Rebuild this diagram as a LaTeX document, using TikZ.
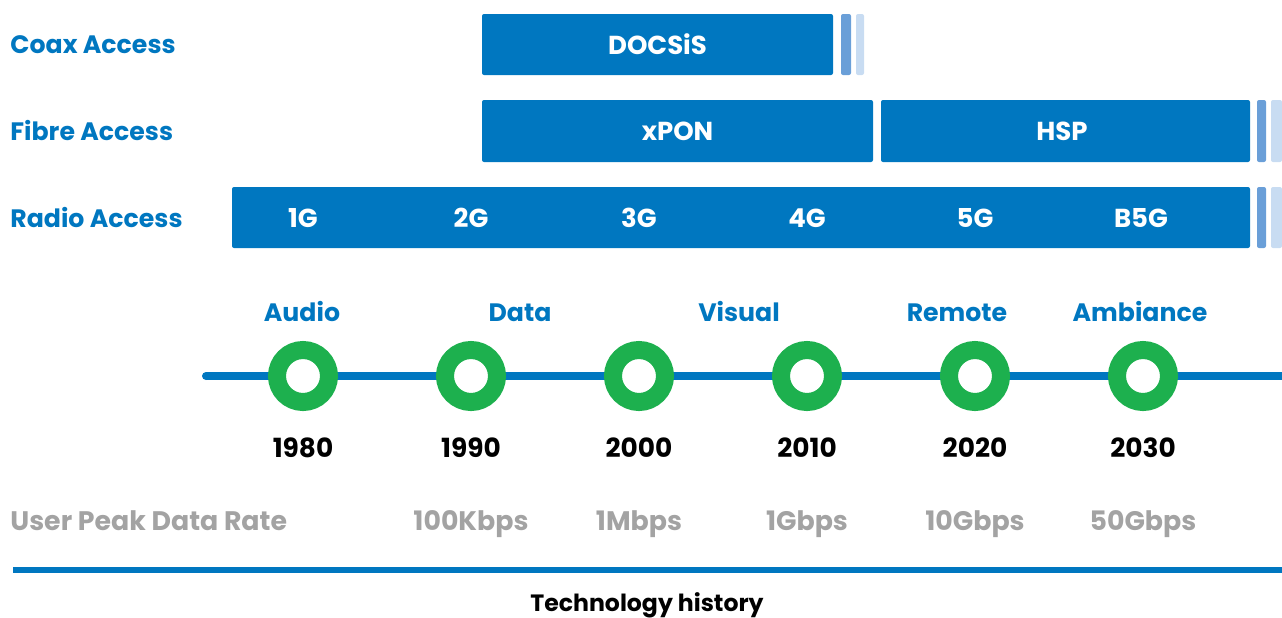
\documentclass[tikz,border=0pt]{standalone}
\usepackage{fontspec}
\setmainfont{Poppins}
\definecolor{barblue}{HTML}{0077C0}
\definecolor{midblue}{HTML}{6A9FD8}
\definecolor{lightblue}{HTML}{C8DCF2}
\definecolor{dotgreen}{HTML}{1DB04E}
\definecolor{ratgray}{HTML}{A3A3A3}
\begin{document}
\begin{tikzpicture}[x=0.5pt,y=-0.5pt,
  bar/.style={fill=barblue,draw=none,rounded corners=1pt},
  strip/.style={draw=none,rounded corners=1pt},
  rowlabel/.style={anchor=base west,text=barblue,font=\bfseries\fontsize{12.6}{14}\selectfont,inner sep=0pt},
  bartext/.style={anchor=base,text=white,font=\bfseries\fontsize{13}{14}\selectfont,inner sep=0pt},
  cat/.style={anchor=base,text=barblue,font=\bfseries\fontsize{12.6}{14}\selectfont,inner sep=0pt},
  year/.style={anchor=base,text=black,font=\bfseries\fontsize{13.2}{14}\selectfont,inner sep=0pt},
  rate/.style={anchor=base,text=ratgray,font=\bfseries\fontsize{13.4}{14}\selectfont,inner sep=0pt},
  dot/.style={circle,draw=dotgreen,line width=9pt,fill=white,minimum size=26pt,inner sep=0pt}]
\useasboundingbox (0,0) rectangle (1282,617);
% rows
\node[rowlabel] (coax) at (10,53) {Coax Access};
\node[rowlabel] (fibre) at (10,140) {Fibre Access};
\node[rowlabel] (radio) at (10,227) {Radio Access};
% coax
\fill[bar] (482,14) rectangle (833,75);
\node[bartext] (docsis) at (657.5,54) {DOCSiS};
\fill[strip,midblue] (841,14) rectangle (851,75);
\fill[strip,lightblue] (856,14) rectangle (864,75);
% fibre
\fill[bar] (482,100) rectangle (873,162);
\node[bartext] (xpon) at (677.5,140) {xPON};
\fill[bar] (881,100) rectangle (1250,162);
\node[bartext] (hsp) at (1062,140) {HSP};
\fill[strip,midblue] (1257,100) rectangle (1266,162);
\fill[strip,lightblue] (1271,100) rectangle (1282,162);
% radio
\fill[bar] (232,187) rectangle (1250,248);
\fill[strip,midblue] (1257,187) rectangle (1266,248);
\fill[strip,lightblue] (1271,187) rectangle (1282,248);
\foreach \n/\x/\t in {g1/303/1G,g2/471/2G,g3/639/3G,g4/807/4G,g5/975/5G,g6/1141/B5G}
  \node[bartext] (\n) at (\x,227) {\t};
% categories
\foreach \n/\x/\t in {audio/302/Audio,data/520/Data,visual/739/Visual,remote/957/Remote,ambiance/1140/Ambiance}
  \node[cat] (\n) at (\x,321) {\t};
% timeline
\coordinate (tl0) at (206,376);
\coordinate (tl1) at (1282,376);
\draw[barblue,line width=4pt] (tl0) -- (tl1);
\fill[barblue] (tl0) circle (2pt);
\foreach \n/\x/\y in {d1/303/1980,d2/471/1990,d3/639/2000,d4/807/2010,d5/975/2020,d6/1143/2030}{
  \node[dot] (\n) at (\x,376) {};
  \node[year] (y\n) at (\x,457) {\y};
}
% rates
\node[rate,anchor=base west] (upr) at (10,530) {User Peak Data Rate};
\foreach \n/\x/\t in {r2/471/100Kbps,r3/639/1Mbps,r4/807/1Gbps,r5/975/10Gbps,r6/1143/50Gbps}
  \node[rate] (\n) at (\x,530) {\t};
% bottom
\coordinate (b0) at (13,570);
\coordinate (b1) at (1282,570);
\draw[barblue,line width=3pt] (b0) -- (b1);
\node[anchor=base,text=black,font=\bfseries\fontsize{11.8}{13}\selectfont,inner sep=0pt] (title) at (647,611) {Technology history};
\end{tikzpicture}
\end{document}
